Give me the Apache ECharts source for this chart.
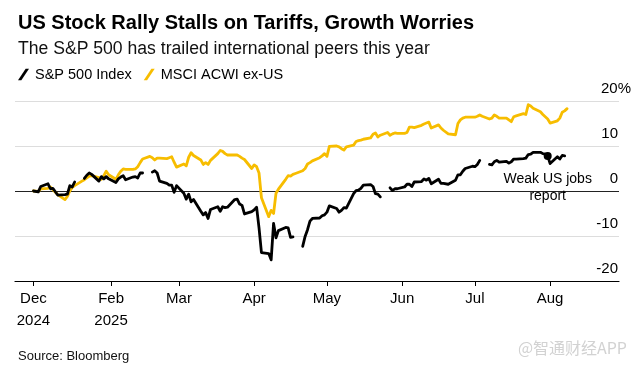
<!DOCTYPE html>
<html>
<head>
<meta charset="utf-8">
<script src="https://cdn.jsdelivr.net/npm/echarts@6/dist/echarts.min.js"></script>
<style>
html,body{margin:0;padding:0;background:#fff;}
#chart{width:638px;height:366px;}
</style>
</head>
<body>
<div id="chart"></div>
<script>
// ---- Data (YTD % change) ----
const dates = [
'2024-12-31','2025-01-02','2025-01-03','2025-01-06','2025-01-07','2025-01-08','2025-01-10','2025-01-13','2025-01-14','2025-01-15',
'2025-01-16','2025-01-17','2025-01-20','2025-01-21','2025-01-22','2025-01-23','2025-01-24','2025-01-27','2025-01-28','2025-01-29',
'2025-01-30','2025-01-31','2025-02-03','2025-02-04','2025-02-05','2025-02-06','2025-02-07','2025-02-10','2025-02-11','2025-02-12',
'2025-02-13','2025-02-14','2025-02-17','2025-02-18','2025-02-19','2025-02-20','2025-02-21','2025-02-24','2025-02-25','2025-02-26',
'2025-02-27','2025-02-28','2025-03-03','2025-03-04','2025-03-05','2025-03-06','2025-03-07','2025-03-10','2025-03-11','2025-03-12',
'2025-03-13','2025-03-14','2025-03-17','2025-03-18','2025-03-19','2025-03-20','2025-03-21','2025-03-24','2025-03-25','2025-03-26',
'2025-03-27','2025-03-28','2025-03-31','2025-04-01','2025-04-02','2025-04-03','2025-04-04','2025-04-07','2025-04-08','2025-04-09',
'2025-04-10','2025-04-11','2025-04-14','2025-04-15','2025-04-16','2025-04-17','2025-04-18','2025-04-21','2025-04-22','2025-04-23',
'2025-04-24','2025-04-25','2025-04-28','2025-04-29','2025-04-30','2025-05-01','2025-05-02','2025-05-05','2025-05-06','2025-05-07',
'2025-05-08','2025-05-09','2025-05-12','2025-05-13','2025-05-14','2025-05-15','2025-05-16','2025-05-19','2025-05-20','2025-05-21',
'2025-05-22','2025-05-23','2025-05-26','2025-05-27','2025-05-28','2025-05-29','2025-05-30','2025-06-02','2025-06-03','2025-06-04',
'2025-06-05','2025-06-06','2025-06-09','2025-06-10','2025-06-11','2025-06-12','2025-06-13','2025-06-16','2025-06-17','2025-06-18',
'2025-06-20','2025-06-23','2025-06-24','2025-06-25','2025-06-26','2025-06-27','2025-06-30','2025-07-01','2025-07-02','2025-07-03',
'2025-07-04','2025-07-07','2025-07-08','2025-07-09','2025-07-10','2025-07-11','2025-07-14','2025-07-15','2025-07-16','2025-07-17',
'2025-07-18','2025-07-21','2025-07-22','2025-07-23','2025-07-24','2025-07-25','2025-07-28','2025-07-29','2025-07-30','2025-07-31',
'2025-08-01','2025-08-04','2025-08-05','2025-08-06','2025-08-07','2025-08-08'
];
const spx = [
0,-0.2,1.0,1.6,0.5,0.6,-0.9,-0.8,-0.7,1.2,
0.9,2.0,null,2.8,3.5,4.0,3.7,2.2,3.2,2.7,
3.2,2.7,1.9,2.7,3.1,3.4,2.5,3.1,3.2,2.9,
4.0,4.0,null,4.2,4.5,4.0,2.2,1.7,1.3,1.3,
-0.3,1.2,-0.5,-1.8,-0.7,-2.4,-1.9,-4.5,-5.3,-4.8,
-6.1,-4.1,-3.5,-4.5,-3.5,-3.7,-3.6,-1.9,-1.8,-2.9,
-3.2,-5.1,-4.6,-4.2,-3.6,-8.2,-13.7,-13.9,-15.3,-7.2,
-10.4,-8.8,-8.1,-8.2,-10.3,-10.2,null,-12.3,-10.1,-8.6,
-6.7,-6.1,-6.0,-5.5,-5.3,-4.7,-3.3,-3.9,-4.7,-4.3,
-3.7,-3.8,-0.6,0.1,0.2,0.6,1.3,1.4,1.0,-0.6,
-0.7,-1.3,null,0.7,0.1,0.5,0.5,0.9,1.5,1.5,
1.0,2.0,2.1,2.7,2.4,2.8,1.6,2.6,1.7,1.7,
1.5,2.4,3.6,3.6,4.4,5.0,5.5,5.4,5.9,6.8,
null,5.9,5.8,6.5,6.8,6.4,6.6,6.2,6.5,7.1,
7.1,7.2,7.3,8.1,8.2,8.6,8.6,8.3,8.2,7.8,
6.1,7.6,7.1,7.9,7.8,null
];
const msci = [
0,-0.1,0.5,0.6,0.9,0.3,-0.8,-1.9,-1.2,0.0,
0.8,1.2,2.2,2.5,2.9,3.3,3.4,3.0,2.6,3.4,
4.4,3.6,2.6,3.6,4.4,4.9,4.8,4.8,4.9,5.4,
6.3,7.1,7.7,7.4,6.9,7.3,7.3,7.2,7.4,7.6,
6.4,5.3,6.0,5.6,7.5,8.5,7.9,6.9,5.9,6.3,
5.9,6.8,8.3,9.0,8.8,8.3,8.0,8.0,8.0,7.7,
7.3,7.0,5.0,5.8,5.4,4.0,-1.5,-5.7,-4.3,-5.0,
-0.5,0.4,2.6,3.4,3.3,3.7,3.9,4.5,5.0,6.0,
6.3,6.7,7.4,7.8,8.3,7.7,9.9,10.0,9.8,9.4,
9.1,9.8,10.2,11.0,11.2,11.3,11.5,11.8,12.6,12.9,
12.0,12.4,13.0,12.4,12.7,12.9,12.8,12.8,13.0,14.2,
14.2,14.1,14.6,14.9,15.1,15.3,14.0,14.7,14.0,13.5,
12.7,12.5,15.0,15.8,16.2,16.4,16.4,16.4,16.6,16.9,
16.6,16.0,16.2,16.9,16.6,16.2,16.2,15.8,15.4,16.5,
16.7,17.2,17.0,19.2,18.9,18.4,17.6,17.0,16.5,16.0,
15.1,15.6,16.2,17.5,17.8,18.3
];
const seriesNames = ['S&P 500 Index', 'MSCI ACWI ex-US'];
const tickDates = ['2024-12-31','2025-02-01','2025-03-01','2025-04-01','2025-05-01','2025-06-01','2025-07-01','2025-08-01'];
const tickLabels = ['Dec\n2024','Feb\n2025','Mar','Apr','May','Jun','Jul','Aug'];
const annotationDate = '2025-07-31';
const annotationText = 'Weak US jobs\nreport';

// ---- helpers ----
function ts(s){ const p = s.split('-').map(Number); return Date.UTC(p[0], p[1]-1, p[2]); }
const tickTs = tickDates.map(ts);
const spxData = dates.map((d,i)=>[ts(d), spx[i]]);
const msciData = dates.map((d,i)=>[ts(d), msci[i]]);
const annIdx = dates.indexOf(annotationDate);
const DAY = 86400000;

const FONT = '"Liberation Sans", Arial, sans-serif';
const BLACK = '#000000';
const YELLOW = '#f7bd00';

const chart = echarts.init(document.getElementById('chart'), null, {renderer:'canvas'});
chart.setOption({
  animation: false,
  backgroundColor: '#ffffff',
  title: [
    {text: 'US Stock Rally Stalls on Tariffs, Growth Worries', left: 13, top: 8,
     textStyle: {fontFamily: FONT, fontSize: 20, fontWeight: 'bold', color: '#000'}},
    {text: 'The S&P 500 has trailed international peers this year', left: 13, top: 35,
     textStyle: {fontFamily: FONT, fontSize: 17.6, fontWeight: 'normal', color: '#111'}},
    {text: 'Source: Bloomberg', left: 13, top: 345,
     textStyle: {fontFamily: FONT, fontSize: 13, fontWeight: 'normal', color: '#111'}},
    {text: '@智通财经APP', right: 6, top: 335,
     textStyle: {fontFamily: '"Noto Sans CJK SC", sans-serif', fontSize: 16, fontWeight: 'normal', color: '#d2d2d2'}}
  ],
  legend: {
    left: 13, top: 62, itemWidth: 11, itemHeight: 12, itemGap: 12,
    icon: 'path://M8,0 L11.5,0 L3.5,12 L0,12 Z',
    data: seriesNames,
    textStyle: {fontFamily: FONT, fontSize: 14.5, color: '#000', padding: [0,0,0,1]}
  },
  grid: {left: 15, right: 19, top: 101, bottom: 85},
  xAxis: {
    type: 'value',
    min: ts('2024-12-23') + 0.4 * DAY,
    max: ts('2025-08-29') + 0.4 * DAY,
    axisLine: {show: true, onZero: false, lineStyle: {color: '#000', width: 1.2}},
    axisTick: {show: true, length: 5, customValues: tickTs, lineStyle: {color: '#000', width: 1}},
    axisLabel: {
      customValues: tickTs, margin: 7, fontFamily: FONT, fontSize: 15, lineHeight: 22, color: '#000',
      hideOverlap: false, showMinLabel: true, showMaxLabel: true,
      formatter: function(v){ const i = tickTs.indexOf(v); return i >= 0 ? tickLabels[i] : ''; }
    },
    splitLine: {show: false}
  },
  yAxis: {
    type: 'value', position: 'right', min: -20, max: 20, interval: 10,
    axisLine: {show: false}, axisTick: {show: false},
    axisLabel: {
      inside: true, margin: -12, verticalAlign: 'bottom', padding: [0,0,5,0],
      formatter: function(v){ return v === 20 ? '{b|20%}' : '{a|' + v + '}'; },
      rich: {
        a: {fontFamily: FONT, fontSize: 15, color: '#000', padding: [0,13,0,0]},
        b: {fontFamily: FONT, fontSize: 15, color: '#000'}
      }
    },
    splitLine: {show: true, lineStyle: {color: ['#dddddd','#dddddd','#222222','#dddddd','#dddddd'], width: 1}}
  },
  series: [
    {name: seriesNames[1], type: 'line', data: msciData, showSymbol: false, connectNulls: false,
     lineStyle: {color: YELLOW, width: 2.8, cap: 'round', join: 'round'}, itemStyle: {color: YELLOW}, z: 2},
    {name: seriesNames[0], type: 'line', data: spxData, showSymbol: false, connectNulls: false,
     lineStyle: {color: BLACK, width: 2.8, cap: 'round', join: 'round'}, itemStyle: {color: BLACK}, z: 3,
     markPoint: {
       symbol: 'circle', symbolSize: 8, itemStyle: {color: BLACK},
       label: {show: true, position: 'bottom', distance: 11, formatter: annotationText,
               fontFamily: FONT, fontSize: 14, lineHeight: 17, color: '#000', align: 'center'},
       data: [{coord: [ts(annotationDate), spx[annIdx]]}]
     }}
  ]
});
</script>
</body>
</html>
